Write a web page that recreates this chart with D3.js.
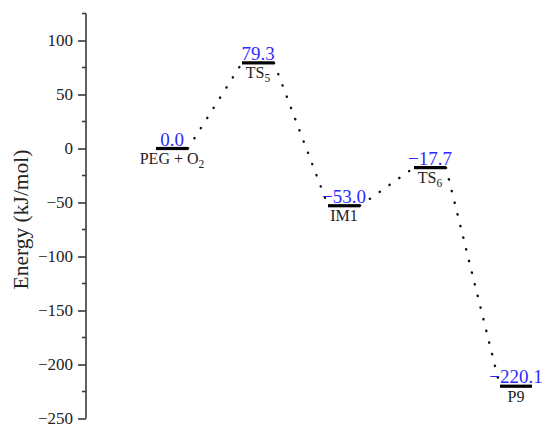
<!DOCTYPE html>
<html>
<head>
<meta charset="utf-8">
<script src="https://cdn.jsdelivr.net/npm/d3@7/dist/d3.min.js"></script>
<style>
  html, body { margin: 0; padding: 0; background: #fff; }
  svg { display: block; }
  text { font-family: "Liberation Serif", "Times New Roman", serif; }
</style>
</head>
<body>
<svg id="chart" width="544" height="424"></svg>
<script>
// Reaction pathway: relative energies of each stationary point (kJ/mol)
const stateNames = ["PEG + O", "TS", "IM1", "TS", "P9"];
const stateSubs  = ["2", "5", "", "6", ""];
const energies   = [0.0, 79.3, -53.0, -17.7, -220.1];
const majorTicks = [-250, -200, -150, -100, -50, 0, 50, 100];
const minorTicks = [-225, -175, -125, -75, -25, 25, 75, 125];
const yDomain    = [-250, 125];

const svg = d3.select("#chart");

const x = d3.scaleLinear().domain([0, 1]).range([86, 172]);
const y = d3.scaleLinear().domain(yDomain).range([418.5, 13.5]);

const halfBar = 16;
const fmt = d3.format(".1f");

// y axis
const axisG = svg.append("g").attr("transform", "translate(86,0)");
axisG.call(d3.axisLeft(y).tickValues(majorTicks).tickSize(8).tickPadding(5).tickFormat(d3.format("d")));
axisG.call(g => g.select(".domain").attr("d", `M0,${y(yDomain[1])}V${y(yDomain[0])}`));
axisG.selectAll(".domain, .tick line").attr("stroke", "#3a3a3a").attr("stroke-width", 1.6);
axisG.selectAll(".tick text")
  .attr("font-size", 17)
  .attr("fill", "#222");

axisG.selectAll(".minor")
  .data(minorTicks)
  .join("line")
  .attr("class", "minor")
  .attr("x1", -4).attr("x2", 0)
  .attr("y1", d => y(d)).attr("y2", d => y(d))
  .attr("stroke", "#3a3a3a").attr("stroke-width", 1.6);

// y axis title
svg.append("text")
  .attr("transform", "translate(28,219.5) rotate(-90)")
  .attr("text-anchor", "middle")
  .attr("font-size", 21.5)
  .attr("fill", "#222")
  .text("Energy (kJ/mol)");

const idx = d3.range(energies.length);

// dotted connectors between consecutive levels
svg.selectAll(".link")
  .data(idx.slice(0, -1))
  .join("line")
  .attr("class", "link")
  .attr("x1", i => x(i + 1) + halfBar)
  .attr("y1", i => y(energies[i]))
  .attr("x2", i => x(i + 2) - halfBar)
  .attr("y2", i => y(energies[i + 1]))
  .attr("stroke", "#111")
  .attr("stroke-width", 2.4)
  .attr("stroke-linecap", "round")
  .attr("stroke-dasharray", "0.3,11.7");

// energy levels
svg.selectAll(".level")
  .data(idx)
  .join("line")
  .attr("class", "level")
  .attr("x1", i => x(i + 1) - halfBar)
  .attr("x2", i => x(i + 1) + halfBar)
  .attr("y1", i => y(energies[i]))
  .attr("y2", i => y(energies[i]))
  .attr("stroke", "#000")
  .attr("stroke-width", 3.2);

// value labels above levels
svg.selectAll(".val")
  .data(idx)
  .join("text")
  .attr("class", "val")
  .attr("x", i => x(i + 1))
  .attr("y", i => y(energies[i]) - 3)
  .attr("text-anchor", "middle")
  .attr("font-size", 19)
  .attr("fill", "#2b2bff")
  .text(i => fmt(energies[i]));

// state names below levels
const names = svg.selectAll(".name")
  .data(idx)
  .join("text")
  .attr("class", "name")
  .attr("x", i => x(i + 1))
  .attr("y", i => y(energies[i]) + 15.5)
  .attr("text-anchor", "middle")
  .attr("font-size", 16)
  .attr("fill", "#222");

names.append("tspan").text(i => stateNames[i]);
names.filter(i => stateSubs[i] !== "")
  .append("tspan")
  .attr("dy", 4)
  .attr("font-size", 11.5)
  .text(i => stateSubs[i]);
</script>
</body>
</html>
